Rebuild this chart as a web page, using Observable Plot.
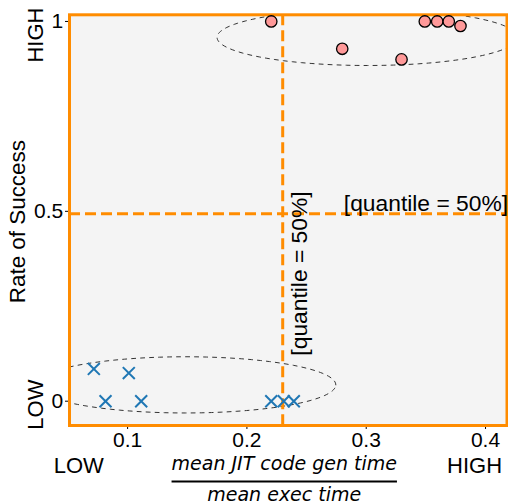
<!DOCTYPE html>
<html><head><meta charset="utf-8">
<script src="https://cdn.jsdelivr.net/npm/d3@7"></script>
<script src="https://cdn.jsdelivr.net/npm/@observablehq/plot@0.6"></script>
<style>
body{margin:0;background:#fff}
#chart svg{font-family:"Liberation Sans",Arial,sans-serif;overflow:visible}
</style>
</head><body><div id="chart"></div>
<script>
// Data
const successX = [0.2204, 0.2799, 0.3296, 0.3491, 0.3595, 0.3692, 0.3790];
const successY = [1, 0.928, 0.900, 1, 1, 1, 0.988];
const failX = [0.0717, 0.1010, 0.0815, 0.1114, 0.2204, 0.2309, 0.2393];
const failY = [0.085, 0.074, 0, 0, 0, 0, 0];
const xTicks = [0.1, 0.2, 0.3, 0.4];
const yTicks = [0, 0.5, 1];
const yTickLabels = ["0", "0.5", "1"];
const quantileX = 0.23;
const quantileY = 0.4935;
const quantileLabel = "[quantile = 50%]";
const clusterCX = [0.1485, 0.301];
const clusterCY = [0.043, 0.958];
const clusterRX = 0.126;
const clusterRY = 0.074;
const lowHighY = ["HIGH", "LOW"];
const lowHighX = ["LOW", "HIGH"];

const success = successX.map((x, i) => ({x, y: successY[i]}));
const fail = failX.map((x, i) => ({x, y: failY[i]}));
const ellipses = clusterCX.flatMap((cx, k) =>
  d3.range(0, 361, 2).map(a => ({
    id: k,
    x: cx + clusterRX * Math.cos(a * Math.PI / 180),
    y: clusterCY[k] + clusterRY * Math.sin(a * Math.PI / 180)
  })));

const orange = "#ff8c00";

const chart = Plot.plot({
  width: 508,
  height: 503,
  marginLeft: 69,
  marginRight: 1.5,
  marginTop: 14.3,
  marginBottom: 78,
  style: {fontSize: "21px", fontFamily: "'Liberation Sans', Arial, sans-serif", color: "#000", background: "#fff"},
  x: {domain: [0.0513, 0.418], ticks: xTicks, tickFormat: d => String(d), tickSize: 4, tickPadding: 3, label: null},
  y: {domain: [-0.064, 1.0175], ticks: yTicks, tickFormat: d => yTickLabels[yTicks.indexOf(d)], tickSize: 4, tickPadding: 2.3, label: null},
  marks: [
    Plot.frame({fill: "#f4f4f4"}),
    Plot.line(ellipses, {x: "x", y: "y", z: "id", stroke: "#333", strokeWidth: 1, strokeDasharray: "4,5", clip: true}),
    Plot.ruleX([quantileX], {stroke: orange, strokeWidth: 3, strokeDasharray: "11,5"}),
    Plot.ruleY([quantileY], {stroke: orange, strokeWidth: 3, strokeDasharray: "11,5"}),
    Plot.frame({stroke: orange, strokeWidth: 3}),
    Plot.dot(success, {x: "x", y: "y", r: 5.7, fill: "#ff9999", stroke: "#000", strokeWidth: 1.3}),
    Plot.dot(fail, {x: "x", y: "y", r: 5.5, symbol: "times", stroke: "#1f77b4", strokeWidth: 2}),
    Plot.text([quantileY], {y: d => d, text: () => quantileLabel, frameAnchor: "right", textAnchor: "end", lineAnchor: "bottom", dx: 1, dy: -2.6, fontSize: 22.8, fill: "#000"}),
    Plot.text([quantileX], {x: d => d, y: () => 0.12, text: () => quantileLabel, rotate: -90, textAnchor: "start", lineAnchor: "top", dx: 8.5, fontSize: 22.8, fill: "#000"}),
    Plot.text(["Rate of Success"], {frameAnchor: "left", textAnchor: "middle", rotate: -90, dx: -51.5, dy: 1.5, fontSize: 22.4, fill: "#000"}),
    Plot.text(lowHighY, {y: d => d === "HIGH" ? 0.964 : -0.009, text: d => d, frameAnchor: "left", textAnchor: "middle", rotate: -90, dx: -34, fontSize: 22, fill: "#000"}),
    Plot.text(lowHighX, {x: d => d === "LOW" ? 0.0591 : 0.3908, text: d => d, frameAnchor: "bottom", textAnchor: "middle", lineAnchor: "bottom", dy: 47.7, fontSize: 22, fill: "#000"}),
    Plot.text(["mean JIT code gen time"], {frameAnchor: "bottom", lineAnchor: "bottom", dx: -4, dy: 44, fontSize: 19, fontStyle: "italic", fontFamily: "'DejaVu Sans', sans-serif", fill: "#000", className: "numer"}),
    Plot.text(["mean exec time"], {frameAnchor: "bottom", lineAnchor: "bottom", dx: -4, dy: 75, fontSize: 19, fontStyle: "italic", fontFamily: "'DejaVu Sans', sans-serif", fill: "#000"})
  ]
});
document.getElementById("chart").appendChild(chart);

// fraction bar under the numerator, sized from the rendered text
const numer = chart.querySelector(".numer text");
if (numer) {
  const b = numer.getBBox();
  const m = numer.getCTM();
  const svgM = chart.getCTM ? chart.getCTM() : null;
  const pt = chart.createSVGPoint();
  pt.x = b.x; pt.y = b.y + b.height;
  const p1 = pt.matrixTransform(m);
  pt.x = b.x + b.width;
  const p2 = pt.matrixTransform(m);
  const inv = svgM ? svgM.inverse() : null;
  const q1 = inv ? p1.matrixTransform(inv) : p1;
  const q2 = inv ? p2.matrixTransform(inv) : p2;
  d3.select(chart).append("line")
    .attr("x1", q1.x).attr("x2", q2.x)
    .attr("y1", q1.y + 8).attr("y2", q2.y + 8)
    .attr("stroke", "#000").attr("stroke-width", 2);
}
</script>
</body></html>
